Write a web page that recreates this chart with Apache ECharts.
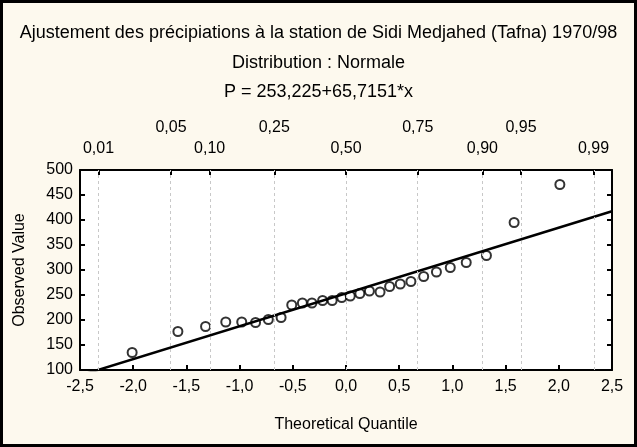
<!DOCTYPE html>
<html>
<head>
<meta charset="utf-8">
<script src="https://cdn.jsdelivr.net/npm/echarts@6/dist/echarts.min.js"></script>
<style>
html,body{margin:0;padding:0;background:#fdf9ee;}
#wrap{position:absolute;left:0;top:0;width:631px;height:441px;border:3px solid #000;background:#fdf9ee;}
#chart{width:631px;height:441px;}
</style>
</head>
<body>
<div id="wrap"><div id="chart"></div></div>
<script>
// Theoretical quantiles (x) and observed precipitation (y)
const theoreticalQuantile = [-2.01, -1.58, -1.32, -1.13, -0.98, -0.85, -0.73, -0.61, -0.51, -0.41, -0.32, -0.22, -0.13, -0.04,
  0.04, 0.13, 0.22, 0.32, 0.41, 0.51, 0.61, 0.73, 0.85, 0.98, 1.13, 1.32, 1.58, 2.01];
const observedValue = [135, 177, 187, 196, 196, 195, 201, 205, 230, 234, 234, 239, 239, 245,
  248, 253, 258, 256, 267, 272, 277, 287, 296, 305, 315, 329, 395, 471];
// Fitted line P = a + b*x
const intercept = 253.225;
const slope = 65.7151;
const lineX = [-2.5, 2.5];
// Probability ticks on the top axis
const probLower = ['0,01', '0,10', '0,50', '0,90', '0,99'];
const probLowerQ = [-2.326, -1.2816, 0, 1.2816, 2.326];
const probUpper = ['0,05', '0,25', '0,75', '0,95'];
const probUpperQ = [-1.645, -0.674, 0.674, 1.645];
const probAllQ = [-2.326, -1.645, -1.2816, -0.674, 0, 0.674, 1.2816, 1.645, 2.326];

const FONT = 'Liberation Sans, Arial, sans-serif';
const chart = echarts.init(document.getElementById('chart'), null, {renderer: 'canvas'});
const comma = v => String(v).replace('.', ',');
const nearest = (arr, v) => arr.findIndex(q => Math.abs(q - v) < 1e-6);

const lineData = lineX.map(x => [x, intercept + slope * x]);
const TS = {fontFamily: FONT, fontSize: 18, fontWeight: 'normal', color: '#000'};

const option = {
  backgroundColor: '#fdf9ee',
  animation: false,
  title: [
    {text: 'Ajustement des précipiations à la station de Sidi Medjahed (Tafna) 1970/98', left: 'center', top: 16, textStyle: TS},
    {text: 'Distribution : Normale', left: 'center', top: 46, textStyle: TS},
    {text: 'P = 253,225+65,7151*x', left: 'center', top: 75, textStyle: TS}
  ],
  grid: {left: 77, top: 167, right: 22, bottom: 74, backgroundColor: '#fff', show: true, borderWidth: 0},
  xAxis: [
    {type: 'value', position: 'bottom', min: -2.5, max: 2.5, interval: 0.5,
      axisLine: {show: true, onZero: false, lineStyle: {color: '#000', width: 2}},
      axisTick: {show: true, inside: true, length: 5, lineStyle: {color: '#000', width: 2}},
      axisLabel: {margin: 9, fontFamily: FONT, fontSize: 16, color: '#000', formatter: v => comma(v.toFixed(1))},
      splitLine: {show: false},
      name: 'Theoretical Quantile', nameLocation: 'middle', nameGap: 47,
      nameTextStyle: {fontFamily: FONT, fontSize: 16, color: '#000'}},
    {type: 'value', position: 'top', min: -2.5, max: 2.5,
      axisLine: {show: true, onZero: false, lineStyle: {color: '#000', width: 2}},
      axisTick: {show: true, inside: true, length: 5, customValues: probAllQ, lineStyle: {color: '#000', width: 2}},
      axisLabel: {show: true, margin: 13, customValues: probLowerQ, fontFamily: FONT, fontSize: 16, color: '#000',
        formatter: v => { const i = nearest(probLowerQ, v); return i >= 0 ? probLower[i] : ''; }},
      splitLine: {show: false}},
    {type: 'value', position: 'top', offset: 21, min: -2.5, max: 2.5,
      axisLine: {show: false}, axisTick: {show: false},
      axisLabel: {show: true, margin: 13, customValues: probUpperQ, fontFamily: FONT, fontSize: 16, color: '#000',
        formatter: v => { const i = nearest(probUpperQ, v); return i >= 0 ? probUpper[i] : ''; }},
      splitLine: {show: false}}
  ],
  yAxis: [
    {type: 'value', position: 'left', min: 100, max: 500, interval: 50,
      axisLine: {show: true, onZero: false, lineStyle: {color: '#000', width: 2}},
      axisTick: {show: true, inside: true, length: 5, lineStyle: {color: '#000', width: 2}},
      axisLabel: {margin: 7, fontFamily: FONT, fontSize: 16, color: '#000'},
      splitLine: {show: false},
      name: 'Observed Value', nameLocation: 'middle', nameGap: 52, nameRotate: 90,
      nameTextStyle: {fontFamily: FONT, fontSize: 16, color: '#000'}},
    {type: 'value', position: 'right', min: 100, max: 500, interval: 50,
      axisLine: {show: true, onZero: false, lineStyle: {color: '#000', width: 2}},
      axisTick: {show: true, inside: true, length: 5, lineStyle: {color: '#000', width: 2}},
      axisLabel: {show: false}, splitLine: {show: false}}
  ],
  series: [
    {type: 'line', xAxisIndex: 1, yAxisIndex: 0, data: [], silent: true,
      markLine: {silent: true, symbol: 'none', label: {show: false},
        lineStyle: {color: '#c8c8c8', type: [3, 3], width: 1},
        data: probAllQ.map(q => ({xAxis: q}))}},
    {type: 'line', xAxisIndex: 0, yAxisIndex: 0, data: lineData, showSymbol: false, clip: true,
      lineStyle: {color: '#000', width: 2.5}},
    {type: 'scatter', xAxisIndex: 0, yAxisIndex: 0, data: theoreticalQuantile.map((x, i) => [x, observedValue[i]]),
      symbol: 'emptyCircle', symbolSize: 9, itemStyle: {color: '#000', borderWidth: 1}}
  ]
};
chart.setOption(option);
</script>
</body>
</html>
